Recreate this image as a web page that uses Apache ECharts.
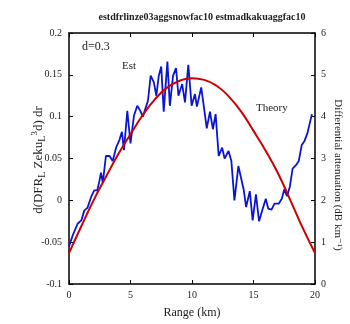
<!DOCTYPE html>
<html>
<head>
<meta charset="utf-8">
<script src="https://cdn.jsdelivr.net/npm/echarts@6.0.0/dist/echarts.min.js"></script>
<style>
  html, body { margin: 0; padding: 0; background: #fff; }
  #chart { width: 350px; height: 324px; }
</style>
</head>
<body>
<div id="chart"></div>
<script>
// estimated series (Range km / value)
var estRange = [0.0, 0.3, 0.7, 1.0, 1.25, 1.5, 1.8, 2.05, 2.3, 2.47, 2.6, 2.75, 3.0, 3.3, 3.55, 3.85,
  4.1, 4.3, 4.47, 4.74, 5.0, 5.28, 5.55, 5.83, 6.0, 6.2, 6.42, 6.64, 6.9, 7.1, 7.3, 7.5, 7.7,
  8.0, 8.2, 8.46, 8.7, 8.9, 9.2, 9.43, 9.7, 9.97, 10.24, 10.4, 10.75, 11.0, 11.2, 11.46, 11.7,
  11.92, 12.17, 12.45, 12.65, 12.97, 13.2, 13.45, 13.77, 14.2, 14.4, 14.7, 14.93, 15.2, 15.45,
  15.75, 16.0, 16.2, 16.47, 16.7, 17.05, 17.3, 17.5, 17.72, 17.95, 18.18, 18.45, 18.68, 18.92,
  19.15, 19.38, 19.75];
var estValue = [-0.055, -0.042, -0.028, -0.024, -0.012, -0.009, 0.004, 0.012, 0.012, 0.023, 0.033, 0.021,
  0.053, 0.053, 0.047, 0.064, 0.072, 0.082, 0.060, 0.107, 0.068, 0.101, 0.113, 0.106, 0.100, 0.109,
  0.119, 0.149, 0.141, 0.125, 0.149, 0.160, 0.106, 0.166, 0.113, 0.149, 0.158, 0.125, 0.139, 0.117,
  0.162, 0.113, 0.127, 0.112, 0.135, 0.108, 0.086, 0.106, 0.085, 0.103, 0.053, 0.063, 0.050, 0.059,
  0.047, 0.000, 0.041, 0.013, -0.008, 0.011, -0.024, 0.007, -0.025, -0.010, 0.002, -0.010, -0.011,
  -0.004, -0.004, 0.002, 0.013, 0.005, 0.016, 0.038, 0.042, 0.047, 0.066, 0.071, 0.080, 0.103];

// theory curve
var theoryRange = [0, 1, 2, 3, 4, 5, 6, 7, 8, 9, 10, 11, 12, 13, 14, 15, 16, 17, 18, 19, 20];
var theoryValue = [-0.063, -0.031, 0.000, 0.028, 0.055, 0.079, 0.102, 0.121, 0.135, 0.143, 0.146,
  0.144, 0.137, 0.124, 0.106, 0.083, 0.059, 0.032, 0.000, -0.033, -0.063];

var xTicks = [0, 5, 10, 15, 20];
var leftTicks = [-0.1, -0.05, 0, 0.05, 0.1, 0.15, 0.2];
var rightTicks = [0, 1, 2, 3, 4, 5, 6];

var serif = '"Liberation Serif", "DejaVu Serif", serif';

function pairs(xs, ys) {
  var out = [];
  for (var i = 0; i < xs.length; i++) out.push([xs[i], ys[i]]);
  return out;
}

var dom = echarts.init(document.getElementById('chart'));

var axisLineStyle = { show: true, onZero: false, lineStyle: { color: '#000', width: 1.5 } };
var tickStyle = { show: true, inside: true, length: 4, lineStyle: { color: '#000', width: 1 } };
var labelStyle = { fontFamily: serif, fontSize: 10, color: '#222' };

var option = {
  animation: false,
  backgroundColor: '#fff',
  title: {
    text: 'estdfrlinze03aggsnowfac10 estmadkakuaggfac10',
    left: 197,
    top: 7,
    textAlign: 'center',
    textStyle: { fontFamily: serif, fontSize: 10, fontWeight: 'bold', color: '#222' }
  },
  grid: { left: 69, right: 35, top: 33, bottom: 36 },
  xAxis: [{
    type: 'value',
    min: xTicks[0],
    max: xTicks[xTicks.length - 1],
    interval: 5,
    position: 'bottom',
    name: 'Range (km)',
    nameLocation: 'middle',
    nameGap: 23,
    nameTextStyle: { fontFamily: serif, fontSize: 12, color: '#222' },
    axisLine: axisLineStyle,
    axisTick: tickStyle,
    axisLabel: Object.assign({ margin: 6 }, labelStyle),
    splitLine: { show: false }
  }, {
    type: 'value',
    min: 0,
    max: 20,
    interval: 5,
    position: 'top',
    axisLine: axisLineStyle,
    axisTick: tickStyle,
    axisLabel: { show: false },
    splitLine: { show: false }
  }],
  yAxis: [{
    type: 'value',
    min: leftTicks[0],
    max: leftTicks[leftTicks.length - 1],
    interval: 0.05,
    position: 'left',
    axisLine: axisLineStyle,
    axisTick: tickStyle,
    axisLabel: Object.assign({ margin: 7 }, labelStyle),
    splitLine: { show: false }
  }, {
    type: 'value',
    min: rightTicks[0],
    max: rightTicks[rightTicks.length - 1],
    interval: 1,
    position: 'right',
    axisLine: axisLineStyle,
    axisTick: tickStyle,
    axisLabel: Object.assign({ margin: 6 }, labelStyle),
    splitLine: { show: false }
  }],
  graphic: [{
    type: 'text',
    x: 39, y: 160,
    rotation: Math.PI / 2,
    style: {
      text: 'd(DFR{s|L} Zeku{s|L}{p|3}d) dr',
      rich: {
        s: { fontFamily: serif, fontSize: 10, verticalAlign: 'bottom', padding: [7, 0, 0, 0] },
        p: { fontFamily: serif, fontSize: 9, verticalAlign: 'top', padding: [0, 0, 7, 0] }
      },
      font: '13px ' + serif,
      fill: '#222',
      align: 'center',
      verticalAlign: 'middle'
    }
  }, {
    type: 'text',
    x: 338, y: 175,
    rotation: -Math.PI / 2,
    style: {
      text: 'Differential attenuation (dB km\u207B\u00B9)',
      font: '11px ' + serif,
      fill: '#222',
      align: 'center',
      verticalAlign: 'middle'
    }
  }, {
    type: 'text', x: 82, y: 41,
    style: { text: 'd=0.3', font: '12px ' + serif, fill: '#222' }
  }, {
    type: 'text', x: 122, y: 61,
    style: { text: 'Est', font: '11px ' + serif, fill: '#222' }
  }, {
    type: 'text', x: 256, y: 103,
    style: { text: 'Theory', font: '11px ' + serif, fill: '#222' }
  }],
  series: [{
    name: 'Est',
    type: 'line',
    xAxisIndex: 0,
    yAxisIndex: 0,
    data: pairs(estRange, estValue),
    showSymbol: false,
    lineStyle: { color: '#0a14d6', width: 1.8 },
    itemStyle: { color: '#0a14d6' },
    z: 3
  }, {
    name: 'Theory',
    type: 'line',
    xAxisIndex: 0,
    yAxisIndex: 0,
    data: pairs(theoryRange, theoryValue),
    smooth: true,
    showSymbol: false,
    lineStyle: { color: '#cc0000', width: 2 },
    itemStyle: { color: '#cc0000' },
    z: 4
  }]
};

dom.setOption(option);
</script>
</body>
</html>
